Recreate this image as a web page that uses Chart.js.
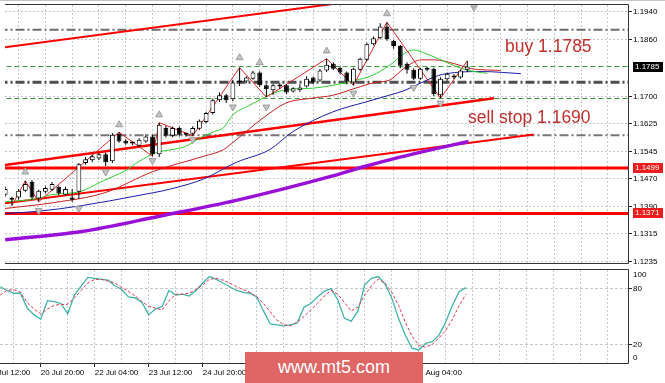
<!DOCTYPE html>
<html>
<head>
<meta charset="utf-8">
<script src="https://cdn.jsdelivr.net/npm/chart.js@4.4.1/dist/chart.umd.min.js"></script>
<style>
html,body{margin:0;padding:0;background:#fff;width:665px;height:383px;overflow:hidden}
#main{position:absolute;left:0;top:0;width:665px;height:268px}
#sub{position:absolute;left:0;top:268px;width:665px;height:115px}
#wm{position:absolute;left:245px;top:352px;width:178px;height:31px;background:#e06666;color:#fff;font:18px Arial,"Liberation Sans",sans-serif;line-height:31px;text-align:center}
.note{position:absolute;color:#c0302c;font:17.5px Arial,"Liberation Sans",sans-serif;line-height:20px;white-space:nowrap}
.hl{position:absolute;left:0;width:665px;height:1px;background:#c4c4c4}
</style>
</head>
<body>
<div class="hl" style="top:0"></div>
<div id="main"><canvas id="c1" width="665" height="268"></canvas></div>
<div id="sub"><canvas id="c2" width="665" height="115"></canvas></div>
<div class="note" style="left:505px;top:36px">buy 1.1785</div>
<div class="note" style="left:468px;top:107px">sell stop 1.1690</div>
<div id="wm">www.mt5.com</div>
<script>
// ================= DATA =================
// time axis (bar index -> label)
const xLabelIdx = [-2, 6, 14, 22, 30, 38, 46, 54, 62];
const xLabels = ['17 Jul 12:00','20 Jul 20:00','22 Jul 04:00','23 Jul 12:00','24 Jul 20:00','28 Jul 04:00','29 Jul 12:00','30 Jul 20:00','3 Aug 04:00'];
const gridIdx = [2,6,10,14,18,22,26,30,34,38,42,46,50,54,58,62,66,70,74,78,82,86,90];
// price axis
const priceTicks = [1.1940,1.1860,1.1700,1.1625,1.1545,1.1470,1.1390,1.1315,1.1235];
const priceBoxes = [1.1785, 1.1499, 1.1371];
const stochTicks = [20, 80];
const stochEdgeTicks = [100, 0];

// H4 candles
const candleO = [1.1424,1.1411,1.1416,1.1435,1.1460,1.1413,1.1432,1.1438,1.1446,1.1424,
                 1.1416,1.1432,1.1513,1.1521,1.1526,1.1538,1.1518,1.1596,1.1576,1.1568,
                 1.1562,1.1574,1.1588,1.1538,1.1612,1.1590,1.1612,1.1593,1.1596,1.1610,
                 1.1629,1.1654,1.1690,1.1704,1.1693,1.1740,1.1743,1.1751,1.1768,1.1732,
                 1.1718,1.1732,1.1732,1.1715,1.1718,1.1729,1.1754,1.1746,1.1774,1.1793,
                 1.1782,1.1768,1.1740,1.1776,1.1804,1.1848,1.1865,1.1898,1.1857,1.1843,
                 1.1793,1.1776,1.1751,1.1776,1.1779,1.1704,1.1749,1.1760,1.1754,1.1776];
const candleH = [1.1446,1.1418,1.1440,1.1463,1.1465,1.1438,1.1448,1.1460,1.1450,1.1446,
                 1.1440,1.1513,1.1530,1.1537,1.1542,1.1543,1.1598,1.1600,1.1580,1.1573,
                 1.1583,1.1594,1.1592,1.1627,1.1618,1.1616,1.1616,1.1599,1.1617,1.1636,
                 1.1658,1.1695,1.1712,1.1708,1.1748,1.1782,1.1758,1.1773,1.1772,1.1735,
                 1.1736,1.1738,1.1735,1.1727,1.1735,1.1758,1.1757,1.1778,1.1807,1.1797,
                 1.1785,1.1771,1.1782,1.1810,1.1852,1.1870,1.1907,1.1910,1.1860,1.1846,
                 1.1797,1.1780,1.1782,1.1784,1.1782,1.1755,1.1768,1.1763,1.1777,1.1801];
const candleL = [1.1418,1.1393,1.1410,1.1432,1.1410,1.1404,1.1428,1.1435,1.1422,1.1420,
                 1.1404,1.1412,1.1508,1.1515,1.1522,1.1504,1.1513,1.1570,1.1565,1.1563,
                 1.1558,1.1570,1.1532,1.1530,1.1585,1.1586,1.1588,1.1588,1.1590,1.1606,
                 1.1625,1.1650,1.1686,1.1682,1.1688,1.1730,1.1738,1.1748,1.1728,1.1699,
                 1.1705,1.1722,1.1708,1.1712,1.1714,1.1726,1.1735,1.1742,1.1770,1.1775,
                 1.1763,1.1735,1.1732,1.1773,1.1800,1.1845,1.1862,1.1858,1.1835,1.1780,
                 1.1765,1.1747,1.1748,1.1772,1.1702,1.1696,1.1745,1.1750,1.1751,1.1770];
const candleC = [1.1440,1.1410,1.1435,1.1454,1.1416,1.1435,1.1443,1.1454,1.1427,1.1440,
                 1.1410,1.1510,1.1524,1.1532,1.1538,1.1515,1.1593,1.1574,1.1568,1.1569,
                 1.1579,1.1588,1.1538,1.1621,1.1590,1.1612,1.1593,1.1594,1.1612,1.1632,
                 1.1654,1.1690,1.1704,1.1690,1.1740,1.1741,1.1754,1.1768,1.1732,1.1721,
                 1.1732,1.1729,1.1712,1.1724,1.1726,1.1751,1.1740,1.1774,1.1790,1.1779,
                 1.1768,1.1743,1.1779,1.1807,1.1848,1.1865,1.1898,1.1862,1.1843,1.1787,
                 1.1776,1.1751,1.1779,1.1782,1.1707,1.1751,1.1765,1.1754,1.1774,1.1785];

// Alligator lines (x = bar index)
const lipsX  = [0,4.9,6.9,11.1,14.3,16.3,17.8,20,22.6,24.9,26.9,29.2,31.1,32.6,34,36.3,38.5,40,42.5,45.9,48.9,52.3,54.8,57.3,59.7,61,62.6,64.7,67.1,69.2,71.1,72];
const lipsV  = [1.1404,1.1413,1.1424,1.1432,1.1460,1.1477,1.1490,1.1518,1.1543,1.1551,1.1560,1.1585,1.1601,1.1613,1.1649,1.1674,1.1696,1.1710,1.1721,1.1724,1.1732,1.1746,1.1760,1.1787,1.1823,1.1832,1.1823,1.1807,1.1787,1.1774,1.1768,1.1766];
const teethX = [0,7.4,14.8,22.2,29.6,32.6,34.5,38.5,41.9,45.9,48.9,52.3,55.2,57.3,59.7,62.2,64.1,67.1,69.6,74];
const teethV = [1.1385,1.1402,1.1429,1.1490,1.1532,1.1551,1.1579,1.1640,1.1682,1.1696,1.1704,1.1724,1.1740,1.1746,1.1782,1.1804,1.1804,1.1793,1.1779,1.1774];
const jawX   = [0,4.9,11.4,19.7,24.7,29.6,34.5,39.5,42.9,48.9,53.8,57.3,59.7,62.2,64.7,67.1,71.1,77];
const jawV   = [1.1371,1.1377,1.1393,1.1421,1.1440,1.1468,1.1515,1.1551,1.1601,1.1657,1.1685,1.1704,1.1718,1.1740,1.1760,1.1768,1.1771,1.1765];
// slow moving average (thick purple)
const maX    = [0,11.4,23.2,34.5,48.9,53.8,58.8,63.7,69.2];
const maV    = [1.1297,1.1320,1.1364,1.1408,1.1477,1.1504,1.1529,1.1551,1.1574];
// zigzag
const zzX    = [1,3,5,17,22,23,28,35,39,48,52,57,65,69];
const zzV    = [1.1393,1.1463,1.1404,1.1600,1.1532,1.1627,1.1590,1.1782,1.1699,1.1807,1.1732,1.1910,1.1696,1.1801];
// fractals
const fracUpX = [3,17,23,35,38,48,57];
const fracUpV = [1.1488,1.1621,1.1649,1.1810,1.1796,1.1829,1.1934];
const fracDnX = [5,11,15,22,28,34,39,52,61,65];
const fracDnV = [1.1379,1.1385,1.1488,1.1520,1.1579,1.1671,1.1671,1.1710,1.1726,1.1682];
const shiftMarkX = [70];
const shiftMarkV = [1.1951];
// drawn objects
const trend1X = [-1, 60],   trend1V = [1.18371, 1.1989];
const trend2X = [-1, 73],   trend2V = [1.15053, 1.16959];
const trend3X = [-1, 78.9], trend3V = [1.13974, 1.15935];
const levelRed = [1.1499, 1.1371];
const levelDashDot = [1.18886, 1.17409, 1.15917];
const levelGreen = [1.1785, 1.1695];
// stochastic
const stochK = [82,78,75,75,59,52,47,67,66,64,
                53,73,83,92,91,90,89,83,79,71,
                70,65,52,58,61,78,73,74,72,78,
                86,93,90,86,82,78,76,75,71,56,
                42,41,40,41,43,60,64,71,77,80,
                68,48,45,56,84,91,93,85,70,48,
                30,16,14,21,23,30,44,62,77,81];
const stochD = [73,78,79,76,65,58,53,58,62,63,
                63,70,78,86,90,90,88,86,81,77,
                72,66,61,59,57,67,74,74,75,79,
                84,90,91,89,86,82,79,76,71,64,
                55,46,41,40,44,50,57,64,72,78,
                74,65,56,60,73,83,90,86,76,62,
                44,29,19,17,20,27,35,47,62,74];

// ================= CHART =================
const FONT = 'Arial, "Liberation Sans", sans-serif';
const X_MIN = -0.03, X_MAX = 93.0;
const Y_MIN = 1.12314, Y_MAX = 1.19585;
const GRID = '#c8c8c8';
const pts = (xs, vs) => xs.map((x, i) => ({x, y: vs[i]}));
const barIdx = candleO.map((_, i) => i);
const hline = (v) => [{x: -1, y: v}, {x: 95, y: v}];

const lineDs = (data, color, width, order, extra) => Object.assign({
  type: 'line', data, borderColor: color, borderWidth: width, pointRadius: 0,
  fill: false, tension: 0, order
}, extra || {});

const datasets = [];
// fractal arrows
datasets.push({type:'line', data: pts(fracUpX, fracUpV), showLine:false, pointStyle:'triangle', pointRadius:4,
  pointRotation:0, pointBackgroundColor:'#c4c4c4', pointBorderColor:'#9c9c9c', pointBorderWidth:1, order:0});
datasets.push({type:'line', data: pts(fracDnX, fracDnV), showLine:false, pointStyle:'triangle', pointRadius:4,
  pointRotation:180, pointBackgroundColor:'#c4c4c4', pointBorderColor:'#9c9c9c', pointBorderWidth:1, order:0});
datasets.push({type:'line', data: pts(shiftMarkX, shiftMarkV), showLine:false, pointStyle:'triangle', pointRadius:4,
  pointRotation:180, pointBackgroundColor:'#b0b0b0', pointBorderColor:'#b0b0b0', pointBorderWidth:1, order:0, clip:false});
// candle bodies and wicks
datasets.push({type:'bar', data: barIdx.map(i => ({x:i, y:[candleO[i], candleC[i]]})), grouped:false,
  maxBarThickness:5, backgroundColor: barIdx.map(i => candleC[i] >= candleO[i] ? '#ffffff' : '#000000'),
  borderColor:'#000', borderWidth:1, borderSkipped:false, minBarLength:2, order:1});
datasets.push({type:'bar', data: barIdx.map(i => ({x:i, y:[candleL[i], candleH[i]]})), grouped:false,
  maxBarThickness:1, backgroundColor:'#000', borderWidth:0, order:2});
// zigzag + alligator + MA
datasets.push(lineDs(pts(zzX, zzV), '#e02424', 1, 3));
datasets.push(lineDs(pts(lipsX, lipsV), '#2ecc2e', 1, 4, {cubicInterpolationMode:'monotone'}));
datasets.push(lineDs(pts(teethX, teethV), '#c81e1e', 1, 5, {cubicInterpolationMode:'monotone'}));
datasets.push(lineDs(pts(jawX, jawV), '#1c1ca8', 1, 6, {cubicInterpolationMode:'monotone'}));
datasets.push(lineDs(pts(maX, maV), '#9a10d8', 3.5, 7, {cubicInterpolationMode:'monotone'}));
// trend lines
datasets.push(lineDs(pts(trend1X, trend1V), '#ff0000', 2, 8));
datasets.push(lineDs(pts(trend2X, trend2V), '#ff0000', 2.5, 8));
datasets.push(lineDs(pts(trend3X, trend3V), '#ff0000', 2, 8));
// horizontal levels
levelRed.forEach(v => datasets.push(lineDs(hline(v), '#ff0000', 3, 9)));
const ddStyle = [['#6c6c6c', 2], ['#4e4e4e', 3], ['#767676', 2]];
levelDashDot.forEach((v, k) => datasets.push(lineDs(hline(v), ddStyle[k][0], ddStyle[k][1], 10, {borderDash:[9,3,2,3]})));
levelGreen.forEach(v => datasets.push(lineDs(hline(v), '#3a983a', 1, 10, {borderDash:[5,3]})));

const mainDeco = {
  id: 'mainDeco',
  afterDraw(chart) {
    const {ctx, chartArea: a} = chart;
    const y = chart.scales.y;
    ctx.save();
    ctx.strokeStyle = '#333'; ctx.lineWidth = 1;
    ctx.beginPath();
    ctx.moveTo(a.left, a.top - 0.5); ctx.lineTo(a.right + 0.5, a.top - 0.5);
    ctx.lineTo(a.right + 0.5, a.bottom + 0.5); ctx.lineTo(a.left, a.bottom + 0.5);
    ctx.stroke();
    const boxBg = ['#000000', '#ee1c1c', '#ee1c1c'];
    ctx.font = '8px ' + FONT; ctx.textBaseline = 'middle'; ctx.textAlign = 'left';
    priceBoxes.forEach((v, k) => {
      const py = y.getPixelForValue(v);
      ctx.fillStyle = boxBg[k];
      ctx.fillRect(a.right + 5, Math.round(py) - 5, 30, 10);
      ctx.fillStyle = '#fff';
      ctx.fillText(v.toFixed(4), a.right + 7, Math.round(py));
    });
    ctx.restore();
  }
};

new Chart(document.getElementById('c1'), {
  type: 'line',
  data: {datasets},
  options: {
    responsive: false, animation: false, events: [],
    layout: {padding: {top: 4, bottom: 1, left: 0, right: 0}},
    plugins: {legend: {display: false}, tooltip: {enabled: false}},
    scales: {
      x: {
        type: 'linear', min: X_MIN, max: X_MAX, offset: false,
        afterBuildTicks: s => { s.ticks = gridIdx.map(v => ({value: v})); },
        afterFit: s => { s.height = 0; s.paddingLeft = 0; s.paddingRight = 0; },
        ticks: {display: false},
        grid: {color: GRID, drawTicks: false, offset: false, borderDash: [2, 2]},
        border: {display: false, dash: [2, 2]}
      },
      y: {
        type: 'linear', position: 'right', min: Y_MIN, max: Y_MAX,
        afterBuildTicks: s => { s.ticks = priceTicks.map(v => ({value: v})); },
        afterFit: s => { s.width = 37; s.paddingTop = 0; s.paddingBottom = 0; },
        ticks: {font: {family: FONT, size: 8}, color: '#000', padding: 1, autoSkip: false,
                callback: v => Number(v).toFixed(4)},
        grid: {color: GRID, drawTicks: true, tickLength: 4, tickColor: '#222', borderDash: [2, 2]},
        border: {display: false, dash: [2, 2]}
      }
    }
  },
  plugins: [mainDeco]
});

// ---- stochastic panel ----
const subDeco = {
  id: 'subDeco',
  afterDraw(chart) {
    const {ctx, chartArea: a} = chart;
    const y = chart.scales.y;
    ctx.save();
    ctx.strokeStyle = '#333'; ctx.lineWidth = 1;
    ctx.beginPath();
    ctx.moveTo(a.left, a.top - 0.5); ctx.lineTo(a.right + 0.5, a.top - 0.5);
    ctx.lineTo(a.right + 0.5, a.bottom + 0.5); ctx.lineTo(a.left, a.bottom + 0.5);
    ctx.stroke();
    ctx.fillStyle = '#000'; ctx.font = '8px ' + FONT; ctx.textAlign = 'left'; ctx.textBaseline = 'middle';
    stochEdgeTicks.forEach(v => {
      const py = y.getPixelForValue(v);
      const shift = v > 50 ? 5 : -5;
      ctx.fillText(String(v), a.right + 5, py + shift);
    });
    ctx.restore();
  }
};

const labelMap = {};
xLabelIdx.forEach((v, k) => { labelMap[v] = xLabels[k]; });
const subTicks = [-2].concat(gridIdx);

new Chart(document.getElementById('c2'), {
  type: 'line',
  data: {datasets: [
    {data: pts(barIdx, stochK), borderColor: '#3fb3a8', borderWidth: 1.3, pointRadius: 0, tension: 0, fill: false, order: 1},
    {data: pts(barIdx, stochD), borderColor: '#e0344c', borderWidth: 1, borderDash: [3, 2], pointRadius: 0, tension: 0, fill: false, order: 0}
  ]},
  options: {
    responsive: false, animation: false, events: [],
    layout: {padding: {top: 2, bottom: 0, left: 0, right: 0}},
    plugins: {legend: {display: false}, tooltip: {enabled: false}},
    scales: {
      x: {
        type: 'linear', min: X_MIN, max: X_MAX, offset: false,
        afterBuildTicks: s => { s.ticks = subTicks.map(v => ({value: v})); },
        afterFit: s => { s.height = 20; s.paddingLeft = 0; s.paddingRight = 0; },
        ticks: {font: {family: FONT, size: 8}, color: '#000', padding: 1, align: 'start',
                maxRotation: 0, minRotation: 0, autoSkip: false,
                callback: v => labelMap[v] || ''},
        grid: {color: c => (c.tick && c.tick.value < 0) ? 'rgba(0,0,0,0)' : GRID,
               tickColor: c => (c.tick && labelMap[c.tick.value]) ? '#222' : 'rgba(0,0,0,0)',
               drawTicks: true, tickLength: 4, offset: false, borderDash: [2, 2]},
        border: {display: false, dash: [2, 2]}
      },
      y: {
        type: 'linear', position: 'right', min: 0, max: 100,
        afterBuildTicks: s => { s.ticks = stochTicks.map(v => ({value: v})); },
        afterFit: s => { s.width = 37; s.paddingTop = 0; s.paddingBottom = 0; },
        ticks: {font: {family: FONT, size: 8}, color: '#000', padding: 1, autoSkip: false},
        grid: {color: GRID, drawTicks: true, tickLength: 4, tickColor: '#222', borderDash: [3, 2]},
        border: {display: false, dash: [3, 2]}
      }
    }
  },
  plugins: [subDeco]
});
</script>
</body>
</html>
